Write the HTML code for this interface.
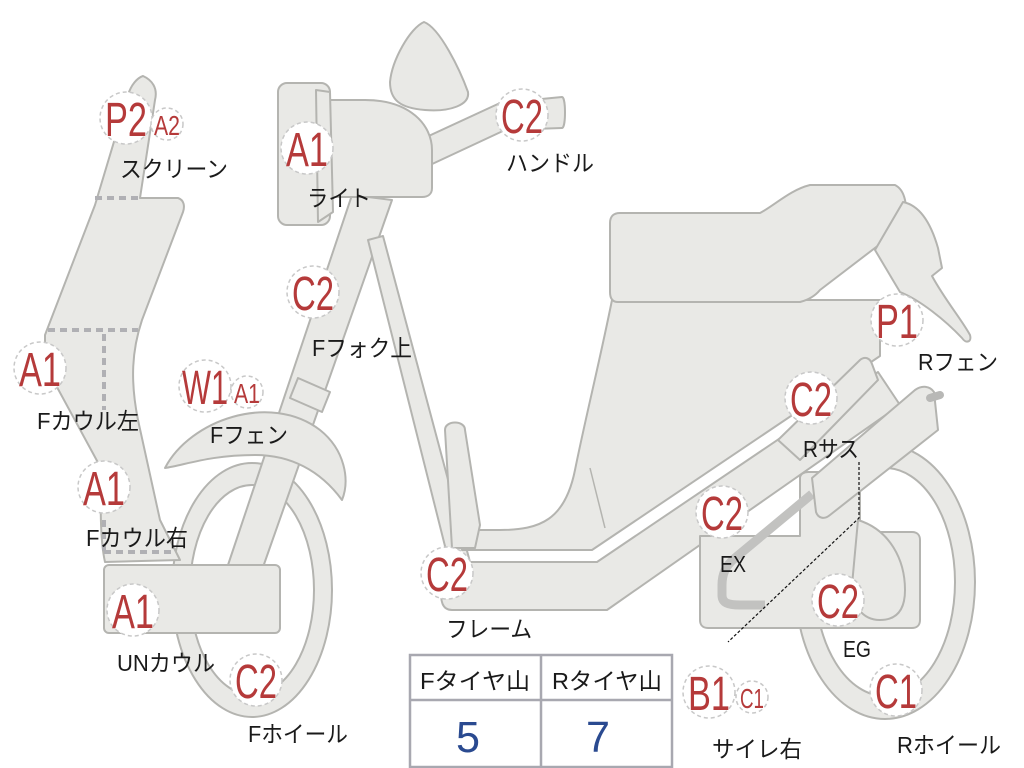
<!DOCTYPE html>
<html><head><meta charset="utf-8"><style>
html,body{margin:0;padding:0;background:#fff;}
svg{display:block;}
.s{fill:#e9e9e6;stroke:#b4b4b0;stroke-width:2;stroke-linejoin:round;}
.b{fill:#fff;stroke:#c8c8c8;stroke-width:1.5;stroke-dasharray:4 3;}
.r{fill:#b53a3a;font-family:"Liberation Sans","DejaVu Sans",sans-serif;}
.t{fill:#1a1a1a;font-family:"Liberation Sans","Noto Sans CJK JP",sans-serif;font-size:23px;}
</style></head><body>
<svg width="1024" height="768" viewBox="0 0 1024 768" xmlns="http://www.w3.org/2000/svg">
<!-- front wheel -->
<path class="s" fill-rule="evenodd" d="M252,463 a80,127 0 1,1 0,254 a80,127 0 1,1 0,-254 Z M252,485 a62,105 0 1,0 0,210 a62,105 0 1,0 0,-210 Z"/>
<!-- rear wheel -->
<path class="s" fill-rule="evenodd" d="M885,445 a90,137 0 1,1 0,274 a90,137 0 1,1 0,-274 Z M885,468 a70,114 0 1,0 0,228 a70,114 0 1,0 0,-228 Z"/>
<!-- front fork strut -->
<path class="s" d="M352,195 L392,200 L262,570 L228,565 Z"/>
<path class="s" d="M298,378 L330,392 L322,412 L290,398 Z"/>
<!-- rear frame strut -->
<path class="s" d="M368,240 L383,236 L470,562 L450,566 Z"/>
<!-- front fender -->
<path class="s" d="M165,468 C190,420 270,392 320,430 C345,450 350,480 342,500 C320,470 290,455 255,455 C210,455 185,465 165,468 Z"/>
<!-- screen / cowl -->
<path class="s" d="M143,76 C152,80 158,88 155,100 L140,198 L178,198 C184,200 185,206 183,212 L142,320 C132,350 130,380 138,420 L160,520 L180,560 L105,562 C100,540 100,500 102,470 L45,365 L45,335 L95,205 L128,95 C131,85 137,78 143,76 Z"/>
<path d="M95,198 L140,198 M48,330 L138,330 M104,334 L104,410" stroke="#b0b0b4" stroke-width="4" stroke-dasharray="7 5" fill="none"/>
<path d="M104,520 L104,552 M104,552 L175,552" stroke="#b0b0b4" stroke-width="4" stroke-dasharray="7 5" fill="none"/>
<!-- UN cowl -->
<rect class="s" x="104" y="565" width="176" height="68" rx="5"/>
<!-- mirror -->
<path class="s" d="M424,22 C440,28 460,70 468,92 C470,105 450,112 425,110 C400,108 390,100 390,82 C392,60 410,28 424,22 Z"/>
<!-- handlebar -->
<path class="s" d="M420,140 L500,103 L562,97 C566,97 566,128 562,128 L505,130 L430,165 Z"/>
<!-- headlight housing -->
<path class="s" d="M315,100 L365,100 C410,100 432,125 432,150 L432,188 C432,194 428,197 422,197 L318,197 Z"/>
<rect class="s" x="278" y="83" width="52" height="142" rx="9"/>
<path class="s" d="M316,90 L330,92 L333,212 L318,222 Z"/>
<!-- body under seat -->
<path class="s" d="M612,300 L880,300 L880,356 L592,550 L462,550 L462,530 L500,530 C540,530 565,520 575,470 C585,420 600,360 612,300 Z"/>
<path class="s" d="M445,430 C445,420 465,420 465,430 L480,525 L475,548 L452,548 Z"/>
<line x1="590" y1="468" x2="605" y2="528" stroke="#b4b4b0" stroke-width="1.5"/>
<!-- seat -->
<path class="s" d="M620,213 L760,213 C775,205 790,190 810,185 L895,185 C905,190 908,205 905,225 L820,290 C815,296 808,300 800,302 L618,302 C612,302 610,298 610,292 L610,223 C610,216 614,213 620,213 Z"/>
<!-- rear fender -->
<path class="s" d="M903,202 C918,205 930,220 938,248 L942,268 L932,276 C945,300 962,320 970,335 C972,342 966,344 962,338 C945,320 920,300 900,292 L875,250 Z"/>
<!-- main frame band -->
<path class="s" d="M450,562 L597,562 L878,372 L900,405 L607,610 L452,610 C442,610 440,600 442,590 Z"/>
<!-- engine -->
<path class="s" d="M700,536 L800,536 L800,478 C800,474 804,472 808,472 L860,472 L860,532 L912,532 C918,532 920,536 920,540 L920,620 C920,626 916,628 912,628 L708,628 C702,628 700,624 700,620 Z"/>
<path class="s" d="M858,520 C890,530 905,560 905,590 C905,612 895,620 880,620 C862,620 852,605 852,585 Z"/>
<!-- exhaust pipe -->
<path d="M812,494 L735,558 C725,566 722,575 722,585 L722,595 C722,603 728,605 740,605 L765,605" stroke="#c2c2c0" stroke-width="9" fill="none" stroke-linecap="butt"/>
<!-- shock -->
<path class="s" d="M778,440 L860,360 C865,356 870,358 872,364 L878,380 L800,460 Z"/>
<!-- muffler -->
<path class="s" d="M812,478 L915,390 C922,385 930,386 934,392 L938,430 L830,515 C824,520 818,518 816,512 Z"/>
<path d="M930,398 L940,395" stroke="#b8b8b6" stroke-width="8" stroke-linecap="round"/>
<!-- leader lines -->
<path d="M859,462 L859,518 L728,642" stroke="#111" stroke-width="1.2" fill="none" stroke-dasharray="3 2"/>
<!-- table -->
<rect x="410" y="655" width="262" height="112" fill="#fff" stroke="#a8a8b0" stroke-width="2.5"/>
<line x1="410" y1="700" x2="672" y2="700" stroke="#a8a8b0" stroke-width="2.5"/>
<line x1="541" y1="655" x2="541" y2="767" stroke="#a8a8b0" stroke-width="2.5"/>
<text class="t" x="420" y="689" textLength="110" lengthAdjust="spacingAndGlyphs">Fタイヤ山</text>
<text class="t" x="552" y="689" textLength="110" lengthAdjust="spacingAndGlyphs">Rタイヤ山</text>
<text x="468" y="752" font-family="Liberation Sans,sans-serif" font-size="44" fill="#2a4a90" text-anchor="middle" textLength="24" lengthAdjust="spacingAndGlyphs">5</text>
<text x="598" y="752" font-family="Liberation Sans,sans-serif" font-size="44" fill="#2a4a90" text-anchor="middle" textLength="24" lengthAdjust="spacingAndGlyphs">7</text>
<!-- badges -->
<g>
<circle class="b" cx="126" cy="118" r="26"/><text class="r" x="126" y="136" font-size="48" text-anchor="middle" textLength="42" lengthAdjust="spacingAndGlyphs">P2</text>
<circle class="b" cx="167" cy="124" r="16"/><text class="r" x="167" y="135" font-size="28" text-anchor="middle" textLength="26" lengthAdjust="spacingAndGlyphs">A2</text>
<circle class="b" cx="307" cy="148" r="26"/><text class="r" x="307" y="166" font-size="48" text-anchor="middle" textLength="42" lengthAdjust="spacingAndGlyphs">A1</text>
<circle class="b" cx="522" cy="115" r="26"/><text class="r" x="522" y="133" font-size="48" text-anchor="middle" textLength="42" lengthAdjust="spacingAndGlyphs">C2</text>
<circle class="b" cx="313" cy="292" r="26"/><text class="r" x="313" y="310" font-size="48" text-anchor="middle" textLength="42" lengthAdjust="spacingAndGlyphs">C2</text>
<circle class="b" cx="40" cy="368" r="26"/><text class="r" x="40" y="386" font-size="48" text-anchor="middle" textLength="42" lengthAdjust="spacingAndGlyphs">A1</text>
<circle class="b" cx="205" cy="386" r="26"/><text class="r" x="205" y="404" font-size="48" text-anchor="middle" textLength="46" lengthAdjust="spacingAndGlyphs">W1</text>
<circle class="b" cx="247" cy="392" r="16"/><text class="r" x="247" y="403" font-size="28" text-anchor="middle" textLength="26" lengthAdjust="spacingAndGlyphs">A1</text>
<circle class="b" cx="104" cy="487" r="26"/><text class="r" x="104" y="505" font-size="48" text-anchor="middle" textLength="42" lengthAdjust="spacingAndGlyphs">A1</text>
<circle class="b" cx="133" cy="610" r="26"/><text class="r" x="133" y="628" font-size="48" text-anchor="middle" textLength="42" lengthAdjust="spacingAndGlyphs">A1</text>
<circle class="b" cx="256" cy="680" r="26"/><text class="r" x="256" y="698" font-size="48" text-anchor="middle" textLength="42" lengthAdjust="spacingAndGlyphs">C2</text>
<circle class="b" cx="447" cy="573" r="26"/><text class="r" x="447" y="591" font-size="48" text-anchor="middle" textLength="42" lengthAdjust="spacingAndGlyphs">C2</text>
<circle class="b" cx="897" cy="320" r="26"/><text class="r" x="897" y="338" font-size="48" text-anchor="middle" textLength="42" lengthAdjust="spacingAndGlyphs">P1</text>
<circle class="b" cx="811" cy="398" r="26"/><text class="r" x="811" y="416" font-size="48" text-anchor="middle" textLength="42" lengthAdjust="spacingAndGlyphs">C2</text>
<circle class="b" cx="722" cy="512" r="26"/><text class="r" x="722" y="530" font-size="48" text-anchor="middle" textLength="42" lengthAdjust="spacingAndGlyphs">C2</text>
<circle class="b" cx="838" cy="600" r="26"/><text class="r" x="838" y="618" font-size="48" text-anchor="middle" textLength="42" lengthAdjust="spacingAndGlyphs">C2</text>
<circle class="b" cx="896" cy="690" r="26"/><text class="r" x="896" y="708" font-size="48" text-anchor="middle" textLength="42" lengthAdjust="spacingAndGlyphs">C1</text>
<circle class="b" cx="709" cy="692" r="26"/><text class="r" x="709" y="710" font-size="48" text-anchor="middle" textLength="42" lengthAdjust="spacingAndGlyphs">B1</text>
<circle class="b" cx="752" cy="697" r="16"/><text class="r" x="752" y="708" font-size="28" text-anchor="middle" textLength="24" lengthAdjust="spacingAndGlyphs">C1</text>
</g>
<!-- labels -->
<text class="t" x="120" y="177" textLength="108" lengthAdjust="spacingAndGlyphs">スクリーン</text>
<text class="t" x="307" y="206" textLength="64" lengthAdjust="spacingAndGlyphs">ライト</text>
<text class="t" x="506" y="171" textLength="88" lengthAdjust="spacingAndGlyphs">ハンドル</text>
<text class="t" x="312" y="356" textLength="100" lengthAdjust="spacingAndGlyphs">Fフォク上</text>
<text class="t" x="37" y="429" textLength="102" lengthAdjust="spacingAndGlyphs">Fカウル左</text>
<text class="t" x="210" y="443" textLength="78" lengthAdjust="spacingAndGlyphs">Fフェン</text>
<text class="t" x="86" y="546" textLength="102" lengthAdjust="spacingAndGlyphs">Fカウル右</text>
<text class="t" x="117" y="671" textLength="98" lengthAdjust="spacingAndGlyphs">UNカウル</text>
<text class="t" x="248" y="742" textLength="100" lengthAdjust="spacingAndGlyphs">Fホイール</text>
<text class="t" x="446" y="637" textLength="86" lengthAdjust="spacingAndGlyphs">フレーム</text>
<text class="t" x="918" y="370" textLength="80" lengthAdjust="spacingAndGlyphs">Rフェン</text>
<text class="t" x="803" y="457" textLength="56" lengthAdjust="spacingAndGlyphs">Rサス</text>
<text class="t" x="720" y="572" textLength="26" lengthAdjust="spacingAndGlyphs">EX</text>
<text class="t" x="843" y="657" textLength="28" lengthAdjust="spacingAndGlyphs">EG</text>
<text class="t" x="712" y="757" textLength="90" lengthAdjust="spacingAndGlyphs">サイレ右</text>
<text class="t" x="897" y="753" textLength="104" lengthAdjust="spacingAndGlyphs">Rホイール</text>
</svg>
</body></html>
